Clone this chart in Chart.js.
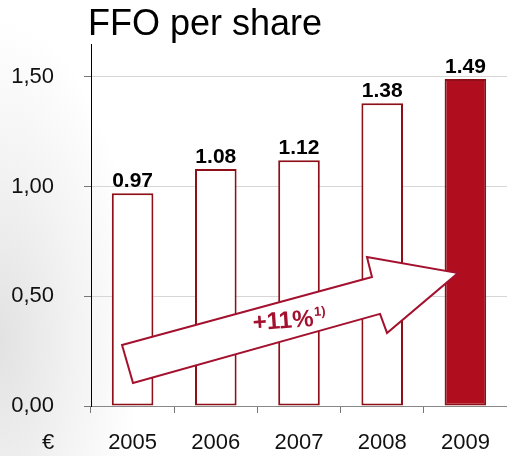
<!DOCTYPE html>
<html>
<head>
<meta charset="utf-8">
<script src="https://cdn.jsdelivr.net/npm/chart.js@4/dist/chart.umd.min.js"></script>
<style>
  html, body { margin: 0; padding: 0; }
  body {
    width: 507px; height: 456px; overflow: hidden;
    background: radial-gradient(ellipse 140px 320px at 0% 75%, #e2e2e2 0%, #f3f3f3 55%, #ffffff 100%);
  }
  #wrap { position: relative; width: 507px; height: 456px; }
</style>
</head>
<body>
<div id="wrap"><canvas id="ffoChart" width="507" height="456"></canvas></div>
<script>
// chart data
const years = ['2005', '2006', '2007', '2008', '2009'];
const ffoValues = [0.97, 1.08, 1.12, 1.38, 1.49];
const yTicks = [0, 0.5, 1.0, 1.5];
const chartTitle = 'FFO per share';
const unitLabel = '€';
const growthLabel = '+11%';
const growthNote = '1)';

// growth arrow outline, in (category index, value) units
const arrowIdx = [-0.127, 2.877, 2.817, 3.911, 3.058, 2.974, 0.005];
const arrowVal = [0.278, 0.588, 0.679, 0.606, 0.333, 0.420, 0.105];

const darkRed = '#8e0f17';
const fillRed = '#b00d1f';
const fontFamily = 'Arial, "Liberation Sans", sans-serif';

const fills = ffoValues.map((v, i) => i === ffoValues.length - 1 ? fillRed : '#ffffff');

const extrasPlugin = {
  id: 'extras',
  afterDatasetsDraw(chart) {
    const ctx = chart.ctx;
    const xs = chart.scales.x;
    const ys = chart.scales.y;
    const area = chart.chartArea;
    const catW = (xs.right - xs.left) / years.length;
    const px = idx => xs.getPixelForValue(0) + idx * catW;

    // value labels
    ctx.save();
    ctx.font = 'bold 21px ' + fontFamily;
    ctx.fillStyle = '#000';
    ctx.textAlign = 'center';
    ctx.textBaseline = 'alphabetic';
    const meta = chart.getDatasetMeta(0);
    meta.data.forEach((bar, i) => {
      ctx.fillText(ffoValues[i].toFixed(2), bar.x, bar.y - 6);
    });
    ctx.restore();

    // arrow
    ctx.save();
    ctx.beginPath();
    arrowIdx.forEach((idx, i) => {
      const x = px(idx), y = ys.getPixelForValue(arrowVal[i]);
      if (i === 0) ctx.moveTo(x, y); else ctx.lineTo(x, y);
    });
    ctx.closePath();
    ctx.fillStyle = '#ffffff';
    ctx.fill();
    ctx.lineWidth = 2;
    ctx.strokeStyle = '#a3112e';
    ctx.stroke();

    // arrow text
    const tx = px(1.81), ty = ys.getPixelForValue(0.385);
    ctx.translate(tx, ty);
    ctx.rotate(-4 * Math.PI / 180);
    ctx.fillStyle = '#a3112e';
    ctx.font = 'bold 24px ' + fontFamily;
    ctx.textAlign = 'center';
    ctx.textBaseline = 'middle';
    ctx.fillText(growthLabel, 0, 0);
    const w = ctx.measureText(growthLabel).width;
    ctx.font = 'bold 13px ' + fontFamily;
    ctx.textAlign = 'left';
    ctx.fillText(growthNote, w / 2 + 1, -7);
    ctx.restore();

    // title and unit
    ctx.save();
    ctx.fillStyle = '#000';
    ctx.font = '36px ' + fontFamily;
    ctx.textAlign = 'left';
    ctx.textBaseline = 'alphabetic';
    ctx.fillText(chartTitle, area.left - 3, 35);
    ctx.restore();

    ctx.save();
    ctx.font = '22px ' + fontFamily;
    ctx.fillStyle = '#111';
    ctx.textAlign = 'center';
    ctx.textBaseline = 'middle';
    ctx.fillText(unitLabel, 48, 443);
    ctx.restore();
  }
};

const canvas = document.getElementById('ffoChart');
new Chart(canvas.getContext('2d'), {
  type: 'bar',
  data: {
    labels: years,
    datasets: [{
      data: ffoValues,
      backgroundColor: fills,
      borderColor: darkRed,
      borderWidth: 2,
      borderSkipped: false,
      barPercentage: 0.5,
      categoryPercentage: 1.0
    }]
  },
  options: {
    responsive: false,
    animation: false,
    layout: { padding: { top: 44, left: 0, right: 0, bottom: 0 } },
    plugins: {
      legend: { display: false },
      tooltip: { enabled: false },
      title: { display: false }
    },
    scales: {
      x: {
        grid: {
          display: true,
          drawOnChartArea: false,
          offset: true,
          tickLength: 7,
          tickColor: '#777'
        },
        border: { color: '#888', width: 1 },
        ticks: {
          color: '#111',
          padding: 17,
          font: { family: fontFamily, size: 22 }
        },
        afterFit(scale) { scale.height = 50; }
      },
      y: {
        min: 0,
        max: 1.65,
        afterBuildTicks(scale) { scale.ticks = yTicks.map(v => ({ value: v })); },
        grid: {
          color: '#d6d6d6',
          tickLength: 7,
          tickColor: '#777'
        },
        border: { color: '#000', width: 1 },
        ticks: {
          color: '#111',
          padding: 30,
          font: { family: fontFamily, size: 22 },
          callback: v => v.toFixed(2).replace('.', ',')
        },
        afterFit(scale) { scale.width = 91; }
      }
    }
  },
  plugins: [extrasPlugin]
});
</script>
</body>
</html>
